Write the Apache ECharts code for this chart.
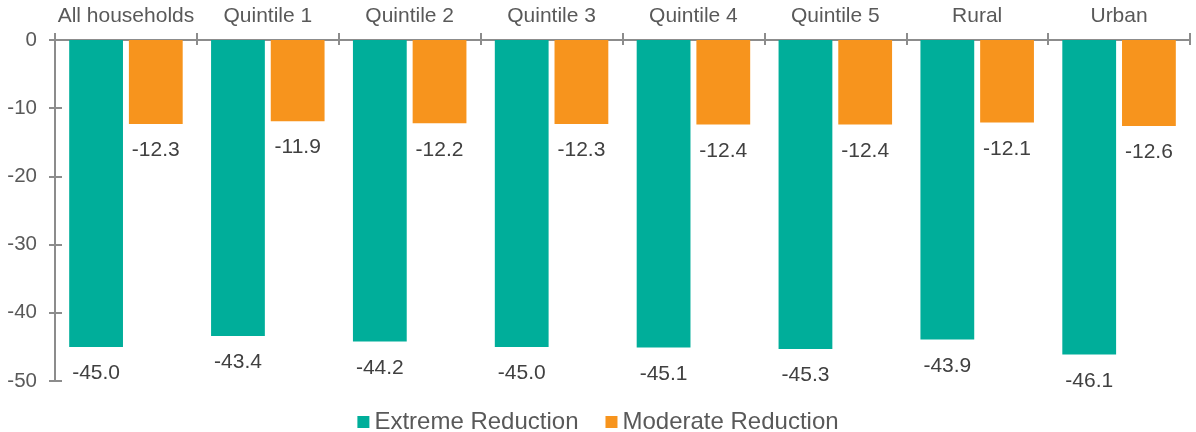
<!DOCTYPE html>
<html>
<head>
<meta charset="utf-8">
<script src="https://cdn.jsdelivr.net/npm/echarts@6/dist/echarts.min.js"></script>
<style>
  html, body { margin: 0; padding: 0; background: #ffffff; }
  #chart { width: 1196px; height: 432px; }
</style>
</head>
<body>
<div id="chart"></div>
<script>
// Change in poverty rates by household group (percentage points)
const categories = ['All households', 'Quintile 1', 'Quintile 2', 'Quintile 3', 'Quintile 4', 'Quintile 5', 'Rural', 'Urban'];
const extremeReduction = [-45.0, -43.4, -44.2, -45.0, -45.1, -45.3, -43.9, -46.1];
const moderateReduction = [-12.3, -11.9, -12.2, -12.3, -12.4, -12.4, -12.1, -12.6];
const seriesNames = ['Extreme Reduction', 'Moderate Reduction'];

const FONT = '"Liberation Sans", Arial, sans-serif';
const AXIS_COLOR = '#8c8c8c';
const TEXT_COLOR = '#595959';

const chart = echarts.init(document.getElementById('chart'), null, { renderer: 'canvas' });

const valueLabel = {
  show: true,
  position: 'bottom',
  distance: 16,
  fontFamily: FONT,
  fontSize: 21,
  color: '#404040',
  formatter: p => p.value.toFixed(1)
};

chart.setOption({
  animation: false,
  textStyle: { fontFamily: FONT },
  grid: { left: 55, right: 6, top: 40, bottom: 51, containLabel: false },
  legend: {
    top: 405,
    left: 'center',
    icon: 'rect',
    itemWidth: 12,
    itemHeight: 12,
    itemGap: 27,
    textStyle: { fontFamily: FONT, fontSize: 24, color: TEXT_COLOR },
    data: seriesNames
  },
  xAxis: [
    {
      type: 'category',
      position: 'top',
      data: categories,
      axisLine: { show: true, lineStyle: { color: AXIS_COLOR, width: 2 } },
      axisTick: { show: true, length: 7, interval: 0, lineStyle: { color: AXIS_COLOR, width: 2 } },
      axisLabel: { fontFamily: FONT, fontSize: 21, color: TEXT_COLOR, margin: 13, interval: 0 },
      splitLine: { show: false }
    },
    {
      // inner half of the crossing ticks
      type: 'category',
      position: 'top',
      data: categories,
      axisLine: { show: false },
      axisTick: { show: true, inside: true, length: 5, interval: 0, lineStyle: { color: AXIS_COLOR, width: 2 } },
      axisLabel: { show: false },
      splitLine: { show: false }
    }
  ],
  yAxis: [
    {
      type: 'value',
      min: -50,
      max: 0,
      interval: 10,
      axisLine: { show: true, lineStyle: { color: AXIS_COLOR, width: 2 } },
      axisTick: { show: true, length: 6, lineStyle: { color: AXIS_COLOR, width: 2 } },
      axisLabel: { fontFamily: FONT, fontSize: 20.5, color: TEXT_COLOR, margin: 18 },
      splitLine: { show: false }
    },
    {
      type: 'value',
      position: 'left',
      min: -50,
      max: 0,
      interval: 10,
      axisLine: { show: false },
      axisTick: { show: true, inside: true, length: 7, lineStyle: { color: AXIS_COLOR, width: 2 } },
      axisLabel: { show: false },
      splitLine: { show: false }
    }
  ],
  series: [
    {
      name: seriesNames[0],
      type: 'bar',
      data: extremeReduction,
      itemStyle: { color: '#00AE9A' },
      barCategoryGap: '20%',
      barGap: '11%',
      label: valueLabel
    },
    {
      name: seriesNames[1],
      type: 'bar',
      data: moderateReduction,
      itemStyle: { color: '#F7941D' },
      barCategoryGap: '20%',
      barGap: '11%',
      label: valueLabel
    }
  ]
});
</script>
</body>
</html>
